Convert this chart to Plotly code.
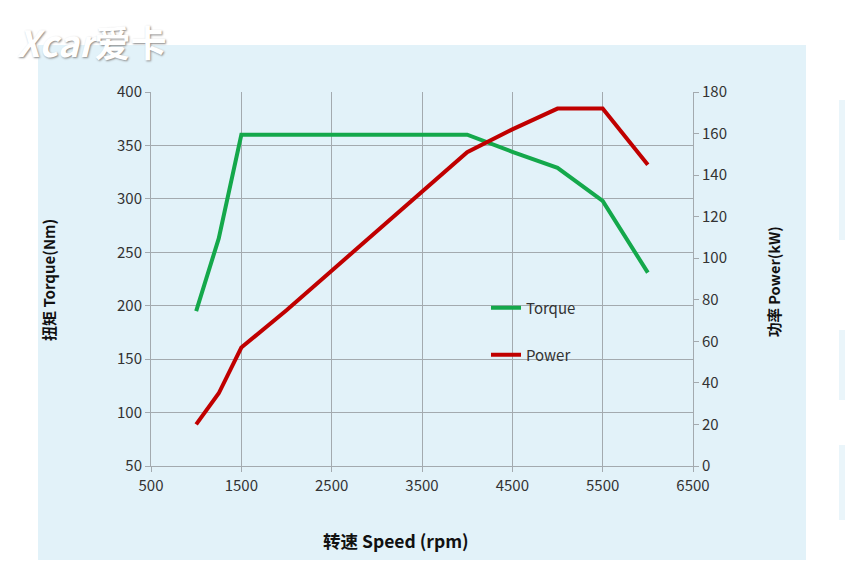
import plotly.graph_objects as go

speed = [1000, 1250, 1500, 2000, 2500, 3000, 3500, 4000, 4500, 5000, 5500, 6000]
torque = [195, 263, 360, 360, 360, 360, 360, 360, 344, 329, 298, 231]
power = [20, 35, 57, 75, 94, 113, 132, 151, 162, 172, 172, 145]
x_ticks = [500, 1500, 2500, 3500, 4500, 5500, 6500]

W, H = 845, 563
L, R, T, B = 151, 693, 92, 466

def px(xp):
    return (xp - L) / (R - L)

def py(yp):
    return (B - yp) / (B - T)

FONT = "Noto Sans CJK SC, Noto Sans, sans-serif"
GRID = "#a3aaaf"
TICKF = dict(size=15, color="#333")

fig = go.Figure()
fig.add_trace(go.Scatter(x=speed, y=torque, mode="lines", name="Torque",
                         line=dict(color="#14a84b", width=4), legend="legend"))
fig.add_trace(go.Scatter(x=speed, y=power, mode="lines", name="Power", yaxis="y2",
                         line=dict(color="#c00000", width=4), legend="legend2"))

fig.update_layout(
    width=W, height=H,
    margin=dict(l=L, r=W - R, t=T, b=H - B),
    paper_bgcolor="white",
    plot_bgcolor="rgba(0,0,0,0)",
    font=dict(family=FONT, size=14, color="#333333"),
    xaxis=dict(range=[500, 6500], tickvals=x_ticks, showgrid=True, gridcolor=GRID, gridwidth=1,
               showline=True, linecolor=GRID, linewidth=1, ticks="outside", ticklen=5,
               tickcolor=GRID, zeroline=False, tickfont=TICKF, ticklabelstandoff=1),
    yaxis=dict(range=[50, 400], dtick=50, showgrid=True, gridcolor=GRID, gridwidth=1,
               showline=True, linecolor=GRID, linewidth=1, ticks="outside", ticklen=5,
               tickcolor=GRID, zeroline=False, tickfont=TICKF),
    yaxis2=dict(range=[0, 180], dtick=20, overlaying="y", side="right", showgrid=False,
                showline=True, linecolor=GRID, linewidth=1, ticks="outside", ticklen=5,
                tickcolor=GRID, zeroline=False, tickfont=TICKF),
    legend=dict(x=px(486), y=py(308), xanchor="left", yanchor="middle",
                bgcolor="rgba(0,0,0,0)", font=dict(size=15, color="#333")),
    legend2=dict(x=px(486), y=py(355), xanchor="left", yanchor="middle",
                 bgcolor="rgba(0,0,0,0)", font=dict(size=15, color="#333")),
    showlegend=True,
)

# light blue panel
fig.add_shape(type="rect", xref="paper", yref="paper",
              x0=px(38), x1=px(806), y0=py(560), y1=py(45),
              fillcolor="#e2f2f9", line=dict(width=0), layer="below")
# faint artifacts at the right edge
for y0, y1 in [(100, 240), (330, 400), (445, 520)]:
    fig.add_shape(type="rect", xref="paper", yref="paper",
                  x0=px(839), x1=px(846), y0=py(y1), y1=py(y0),
                  fillcolor="#eaf5fa", line=dict(width=0), layer="below")

# axis titles
fig.add_annotation(text="扭矩 Torque(Nm)", xref="paper", yref="paper", x=px(48), y=py(280),
                   xanchor="center", yanchor="middle",
                   textangle=-90, showarrow=False, font=dict(size=15, color="#111", family=FONT, weight="bold"))
fig.add_annotation(text="功率 Power(kW)", xref="paper", yref="paper", x=px(773), y=py(282),
                   xanchor="center", yanchor="middle",
                   textangle=-90, showarrow=False, font=dict(size=14.5, color="#111", family=FONT, weight="bold"))
fig.add_annotation(text="转速 Speed (rpm)", xref="paper", yref="paper", x=px(396), y=py(540),
                   xanchor="center", yanchor="middle",
                   showarrow=False, font=dict(size=17.5, color="#111", family=FONT, weight="bold"))

# watermark logo
fig.add_annotation(text="<i>Xcar</i>爱卡", xref="paper", yref="paper", x=px(92), y=py(41),
                   xanchor="center", yanchor="middle",
                   showarrow=False,
                   font=dict(size=36, color="white", family=FONT, weight="bold",
                             shadow="1px 1px 2px #8a8a8a"))

fig.write_html("out.html")
